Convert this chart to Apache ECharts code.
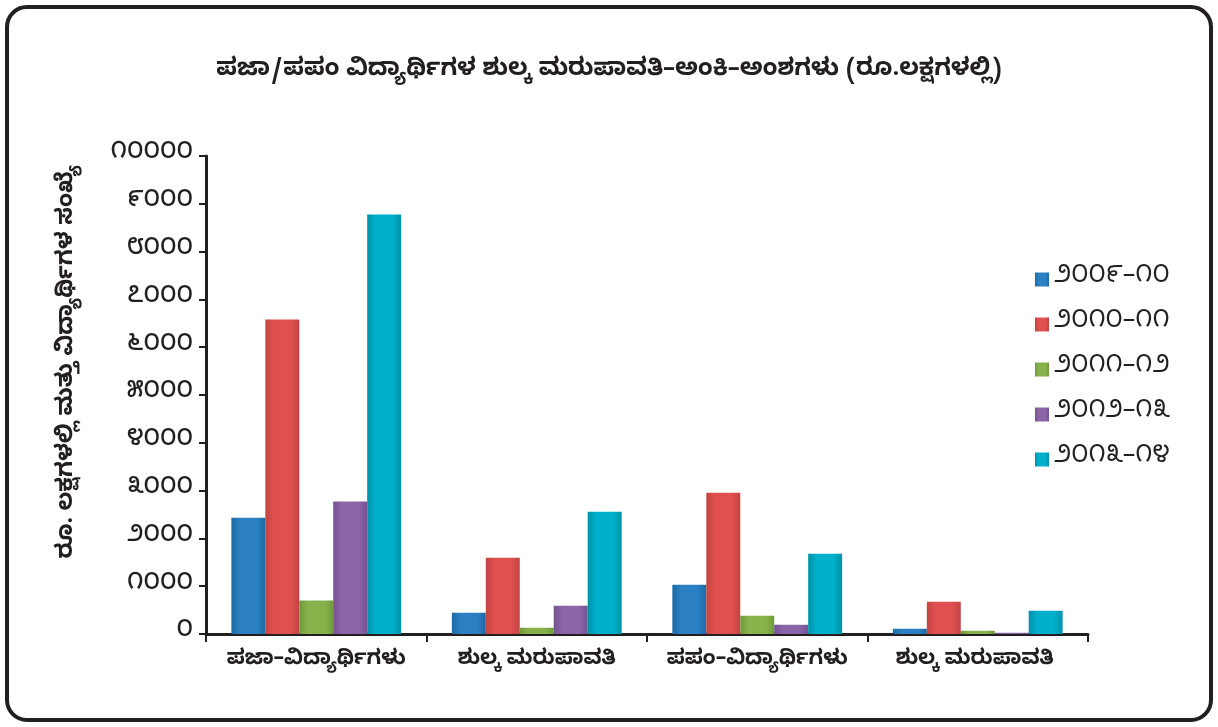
<!DOCTYPE html>
<html>
<head>
<meta charset="utf-8">
<script src="https://cdn.jsdelivr.net/npm/echarts@6/dist/echarts.min.js"></script>
<style>
  html, body { margin: 0; padding: 0; background: #fff; }
  #frame {
    position: absolute; left: 5px; top: 5px; width: 1200px; height: 709px;
    border: 4px solid #231f20; border-radius: 22px; background: #fff;
  }
  #main { position: absolute; left: 0; top: 0; width: 1218px; height: 727px; }
</style>
</head>
<body>
<div id="frame"></div>
<div id="main"></div>
<script>
const categories = ["ಪಜಾ–ವಿದ್ಯಾರ್ಥಿಗಳು", "ಶುಲ್ಕ ಮರುಪಾವತಿ", "ಪಪಂ–ವಿದ್ಯಾರ್ಥಿಗಳು", "ಶುಲ್ಕ ಮರುಪಾವತಿ "];
const years = ["೨೦೦೯–೧೦", "೨೦೧೦–೧೧", "೨೦೧೧–೧೨", "೨೦೧೨–೧೩", "೨೦೧೩–೧೪"];
const y2009 = [2430, 446, 1032, 111];
const y2010 = [6580, 1597, 2956, 676];
const y2011 = [700, 132, 383, 70];
const y2012 = [2772, 592, 195, 28];
const y2013 = [8776, 2559, 1680, 488];
const colors = [["#2a80c2", "#1d6aa3"], ["#e05050", "#c24442"], ["#88b34c", "#6f9a3c"], ["#8a66a8", "#74518f"], ["#00afca", "#0092a8"]];

const kannadaDigits = "೦೧೨೩೪೫೬೭೮೯";
function toKannada(n) {
  return String(n).replace(/[0-9]/g, d => kannadaDigits[+d]);
}

const font = "'Noto Sans Kannada', 'Noto Sans', 'DejaVu Sans', sans-serif";
const allData = [y2009, y2010, y2011, y2012, y2013];

const myChart = echarts.init(document.getElementById("main"));
myChart.setOption({
  animation: false,
  title: {
    text: "ಪಜಾ/ಪಪಂ ವಿದ್ಯಾರ್ಥಿಗಳ ಶುಲ್ಕ ಮರುಪಾವತಿ–ಅಂಕಿ–ಅಂಶಗಳು (ರೂ.ಲಕ್ಷಗಳಲ್ಲಿ)",
    left: "center",
    top: 56,
    textStyle: { fontFamily: font, fontSize: 24, fontWeight: "bold", color: "#231f20" }
  },
  graphic: [{
    type: "text",
    left: 58,
    top: 165,
    rotation: Math.PI / 2,
    style: {
      text: "ರೂ. ಲಕ್ಷಗಳಲ್ಲಿ ಮತ್ತು ವಿದ್ಯಾರ್ಥಿಗಳ ಸಂಖ್ಯೆ",
      font: "bold 23px " + font,
      fill: "#231f20"
    }
  }],
  legend: {
    orient: "vertical",
    left: 1030,
    top: 262,
    itemGap: 20,
    itemWidth: 14,
    itemHeight: 14,
    icon: "rect",
    data: years,
    textStyle: { fontFamily: font, fontSize: 25, lineHeight: 20, color: "#231f20" }
  },
  grid: { left: 206, right: 130, top: 156, bottom: 93 },
  xAxis: {
    type: "category",
    data: categories,
    axisLine: { lineStyle: { color: "#231f20", width: 3 } },
    axisTick: { show: true, interval: 0, length: 8, lineStyle: { color: "#231f20", width: 2 } },
    axisLabel: { interval: 0, fontFamily: font, fontSize: 21, fontWeight: "bold", color: "#231f20", margin: 17 }
  },
  yAxis: {
    type: "value",
    min: 0,
    max: 10000,
    interval: 1000,
    axisLine: { show: true, lineStyle: { color: "#231f20", width: 3 } },
    axisTick: { show: true, length: 7, lineStyle: { color: "#231f20", width: 2 } },
    splitLine: { show: false },
    axisLabel: {
      fontFamily: font, fontSize: 24, fontWeight: 500, color: "#231f20", margin: 13,
      formatter: v => toKannada(v)
    }
  },
  series: years.map((y, i) => ({
    name: y,
    type: "bar",
    data: allData[i],
    barGap: "0%",
    barCategoryGap: "23%",
    itemStyle: {
      color: new echarts.graphic.LinearGradient(0, 0, 1, 0, [
        { offset: 0, color: colors[i][1] },
        { offset: 0.25, color: colors[i][0] },
        { offset: 0.75, color: colors[i][0] },
        { offset: 1, color: colors[i][1] }
      ])
    }
  })),
  color: colors.map(c => c[0])
});
</script>
</body>
</html>
